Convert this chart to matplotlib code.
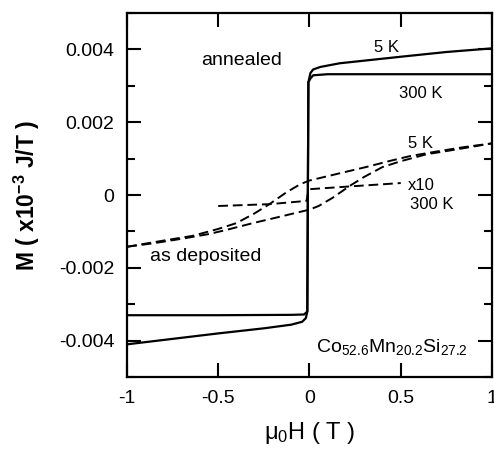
import numpy as np
import matplotlib
matplotlib.use('Agg')
import matplotlib.pyplot as plt
from matplotlib.ticker import MultipleLocator

plt.rcParams['font.family'] = ['Liberation Sans', 'DejaVu Sans']
plt.rcParams['mathtext.fontset'] = 'custom'
plt.rcParams['mathtext.rm'] = 'Liberation Sans'
plt.rcParams['mathtext.bf'] = 'Liberation Sans:bold'
plt.rcParams['mathtext.default'] = 'regular'

# annealed, 5 K (M in 1e-3 J/T)
H_ann5 = [-1, -0.75, -0.5, -0.25, -0.1, -0.04, -0.02, -0.012, -0.006, 0.005, 0.02, 0.06, 0.165, 0.5, 0.75, 1]
M_ann5 = [-4.10, -3.95, -3.80, -3.66, -3.56, -3.48, -3.38, -3.20, 3.10, 3.35, 3.45, 3.52, 3.62, 3.80, 3.93, 4.03]

# annealed, 300 K
H_ann300 = [-1, -0.5, -0.1, -0.03, -0.012, -0.006, 0.005, 0.02, 0.1, 0.5, 1]
M_ann300 = [-3.30, -3.30, -3.29, -3.28, -3.20, 3.10, 3.20, 3.29, 3.32, 3.32, 3.32]

# as deposited, 5 K, upper branch (lower branch is the mirror image)
H_dep5 = [-1, -0.8, -0.64, -0.5, -0.4, -0.3, -0.22, -0.125, -0.05, 0, 0.1, 0.2, 0.31, 0.45, 0.55, 0.7, 0.85, 1]
M_dep5 = [-1.42, -1.25, -1.12, -0.93, -0.77, -0.50, -0.25, 0.08, 0.30, 0.40, 0.52, 0.64, 0.77, 0.95, 1.07, 1.20, 1.32, 1.42]

# as deposited, 300 K, x10
H_dep300 = [-0.5, -0.22, -0.016, -0.005, 0.2, 0.5]
M_dep300 = [-0.30, -0.25, -0.16, 0.16, 0.23, 0.33]

fig = plt.figure(figsize=(4.94, 4.5), dpi=100)
ax = fig.add_axes([0.257, 0.162, 0.739, 0.809])

k = 1e-3
ax.plot(H_ann5, np.array(M_ann5) * k, color='black', lw=1.6)
ax.plot(H_ann300, np.array(M_ann300) * k, color='black', lw=1.6)
ax.plot(H_dep5, np.array(M_dep5) * k, color='black', lw=1.4, linestyle=(0, (5, 2.5)))
ax.plot(-np.array(H_dep5), -np.array(M_dep5) * k, color='black', lw=1.4, linestyle=(3, (5, 2.5)))
ax.plot(H_dep300, np.array(M_dep300) * k, color='black', lw=1.4, linestyle=(0, (5, 2.5)))

ax.set_xlim(-1, 1)
ax.set_ylim(-0.005, 0.005)
ax.yaxis.set_minor_locator(MultipleLocator(0.001))
ax.set_yticks([-0.004, -0.002, 0, 0.002, 0.004])
ax.set_yticklabels(['-0.004', '-0.002', '0', '0.002', '0.004'])
ax.set_xticks([-1, -0.5, 0, 0.5, 1])
ax.set_xticklabels(['-1', '-0.5', '0', '0.5', '1'])
ax.tick_params(which='both', direction='in', top=True, right=True, labelsize=14, width=1.5)
ax.tick_params(which='major', length=10, pad=9)
ax.tick_params(which='minor', length=6)
for s in ax.spines.values():
    s.set_linewidth(1.6)

ax.set_xlabel('μ$_0$H ( T )', fontsize=17, labelpad=10)
ax.set_ylabel('M ( x10$\\mathbf{^{-3}}$ J/T )', fontsize=16.5, fontweight='bold', labelpad=12)

ax.text(-0.37, 0.0037, 'annealed', fontsize=14, ha='center', va='center')
ax.text(0.42, 0.00405, '5 K', fontsize=12, ha='center', va='center')
ax.text(0.61, 0.0028, '300 K', fontsize=12, ha='center', va='center')
ax.text(0.61, 0.00142, '5 K', fontsize=12, ha='center', va='center')
ax.text(0.54, 0.00027, 'x10', fontsize=12, ha='left', va='center')
ax.text(0.55, -0.00025, '300 K', fontsize=12, ha='left', va='center')
ax.text(-0.57, -0.0017, 'as deposited', fontsize=14, ha='center', va='center')
ax.text(0.45, -0.00416, 'Co$_{52.6}$Mn$_{20.2}$Si$_{27.2}$', fontsize=14, ha='center', va='center')

fig.savefig('out.png', dpi=100)
